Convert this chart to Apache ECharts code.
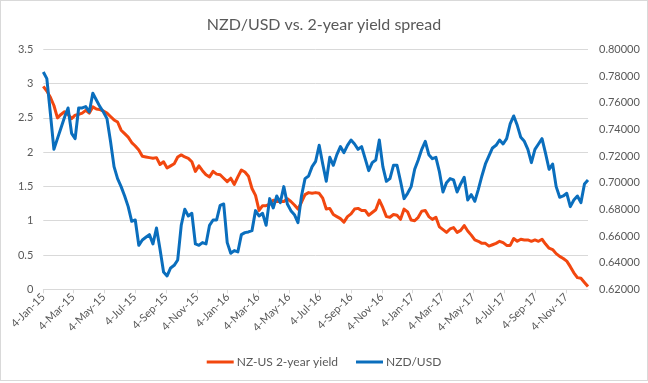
<!DOCTYPE html>
<html>
<head>
<meta charset="utf-8">
<script src="https://cdn.jsdelivr.net/npm/echarts@6/dist/echarts.min.js"></script>
<style>
html,body{margin:0;padding:0;background:#fff;}
#chart{position:absolute;left:0;top:0;width:648px;height:383px;}
#frame{position:absolute;left:0;top:0;width:646px;height:379px;border:1px solid #d9d9d9;pointer-events:none;}
</style>
</head>
<body>
<div id="chart"></div>
<div id="frame"></div>
<script>
// Weekly observations starting on this date (Sunday), one per week
const startDate = '2015-01-04';
const lastDate = '2017-12-17';

const tickLabels = ['4-Jan-15','4-Mar-15','4-May-15','4-Jul-15','4-Sep-15','4-Nov-15',
  '4-Jan-16','4-Mar-16','4-May-16','4-Jul-16','4-Sep-16','4-Nov-16',
  '4-Jan-17','4-Mar-17','4-May-17','4-Jul-17','4-Sep-17','4-Nov-17'];

const leftTicks = ['0','0.5','1','1.5','2','2.5','3','3.5'];

const seriesNames = ['NZ-US 2-year yield', 'NZD/USD'];

const yieldSpread = [
  2.96,2.89,2.80,2.68,2.50,2.55,2.59,2.55,2.49,2.54,
  2.55,2.57,2.61,2.57,2.66,2.63,2.62,2.60,2.57,2.52,
  2.47,2.44,2.32,2.27,2.22,2.14,2.09,2.03,1.94,1.93,
  1.92,1.91,1.92,1.82,1.86,1.77,1.80,1.83,1.93,1.96,
  1.93,1.91,1.86,1.72,1.80,1.73,1.67,1.64,1.72,1.68,
  1.67,1.62,1.57,1.62,1.53,1.64,1.74,1.71,1.65,1.47,
  1.37,1.15,1.22,1.22,1.24,1.30,1.28,1.28,1.28,1.32,
  1.28,1.23,1.17,1.27,1.38,1.41,1.40,1.41,1.40,1.33,
  1.17,1.18,1.09,1.06,1.03,0.98,1.06,1.10,1.17,1.18,
  1.15,1.15,1.08,1.12,1.16,1.30,1.19,1.06,1.05,1.09,
  1.08,1.02,1.17,1.13,1.01,1.00,1.05,1.14,1.15,1.06,
  1.02,1.05,0.91,0.87,0.83,0.88,0.90,0.83,0.86,0.93,
  0.85,0.79,0.72,0.70,0.67,0.67,0.63,0.65,0.67,0.70,
  0.68,0.64,0.64,0.74,0.70,0.73,0.72,0.72,0.70,0.72,
  0.70,0.73,0.66,0.60,0.58,0.52,0.48,0.45,0.41,0.33,
  0.24,0.17,0.16,0.10,0.04
];

const nzdUsd = [
  0.783,0.778,0.752,0.725,0.733,0.741,0.749,0.756,0.737,0.733,
  0.756,0.756,0.757,0.753,0.767,0.762,0.757,0.753,0.748,0.731,
  0.712,0.703,0.697,0.690,0.682,0.671,0.672,0.653,0.657,0.659,
  0.661,0.654,0.666,0.650,0.633,0.630,0.636,0.638,0.642,0.668,
  0.680,0.675,0.677,0.654,0.653,0.655,0.654,0.668,0.672,0.672,
  0.683,0.684,0.655,0.647,0.649,0.648,0.661,0.6625,0.663,0.664,
  0.679,0.675,0.677,0.668,0.688,0.681,0.690,0.685,0.697,0.684,
  0.679,0.676,0.670,0.690,0.703,0.705,0.712,0.716,0.728,0.714,
  0.701,0.719,0.713,0.721,0.727,0.7225,0.728,0.732,0.729,0.725,
  0.727,0.718,0.709,0.715,0.717,0.732,0.712,0.701,0.703,0.713,
  0.713,0.701,0.688,0.692,0.697,0.710,0.717,0.725,0.731,0.721,
  0.718,0.719,0.708,0.693,0.700,0.703,0.702,0.693,0.699,0.704,
  0.687,0.691,0.686,0.695,0.705,0.714,0.720,0.726,0.728,0.732,
  0.729,0.733,0.744,0.750,0.743,0.734,0.731,0.725,0.715,0.725,
  0.729,0.733,0.722,0.710,0.714,0.697,0.689,0.690,0.692,0.682,
  0.687,0.690,0.685,0.699,0.702
];

const MONTHS = {Jan:0,Feb:1,Mar:2,Apr:3,May:4,Jun:5,Jul:6,Aug:7,Sep:8,Oct:9,Nov:10,Dec:11};
const DAY = 86400000;
const t0 = Date.parse(startDate + 'T00:00:00Z');
function dayOffset(label) {
  const p = label.split('-');
  return Math.round((Date.UTC(2000 + (+p[2]), MONTHS[p[1]], +p[0]) - t0) / DAY);
}
const tickDays = tickLabels.map(dayOffset);
const maxDay = Math.round((Date.parse(lastDate + 'T00:00:00Z') - t0) / DAY);

const redData = yieldSpread.map((v, i) => [i * 7, v]);
const blueData = nzdUsd.map((v, i) => [i * 7, v]);

const FONT = 'Lato, "Open Sans", sans-serif';
const chart = echarts.init(document.getElementById('chart'), null, {renderer: 'canvas'});
chart.setOption({
  animation: false,
  backgroundColor: '#ffffff',
  title: {
    text: 'NZD/USD vs. 2-year yield spread',
    left: 'center',
    top: 12,
    textStyle: {fontFamily: FONT, fontSize: 16, fontWeight: 'normal', color: '#595959'}
  },
  legend: {
    bottom: 10,
    left: 'center',
    itemWidth: 27,
    itemHeight: 3,
    itemGap: 18,
    icon: 'rect',
    data: seriesNames,
    textStyle: {fontFamily: FONT, fontSize: 12, color: '#595959', padding: [0, 0, 0, -2]}
  },
  grid: {left: 43.3, right: 60, top: 49.3, bottom: 93.7, containLabel: false},
  xAxis: {
    type: 'value',
    min: 0,
    max: maxDay,
    axisLine: {show: true, lineStyle: {color: '#d9d9d9', width: 1}},
    axisTick: {show: true, length: 4, lineStyle: {color: '#d9d9d9'}, customValues: tickDays},
    axisLabel: {
      customValues: tickDays,
      rotate: 45,
      margin: 6,
      fontFamily: FONT,
      fontSize: 11,
      color: '#595959',
      formatter: function (v) {
        const k = tickDays.indexOf(Math.round(v));
        return k >= 0 ? tickLabels[k] : '';
      }
    },
    splitLine: {show: false}
  },
  yAxis: [
    {
      type: 'value',
      min: 0,
      max: 3.5,
      interval: 0.5,
      axisLine: {show: false},
      axisTick: {show: false},
      axisLabel: {
        margin: 10,
        fontFamily: FONT,
        fontSize: 11,
        color: '#595959',
        formatter: function (v) { return leftTicks[Math.round(v / 0.5)]; }
      },
      splitLine: {show: true, lineStyle: {color: '#d9d9d9', width: 1}}
    },
    {
      type: 'value',
      min: 0.62,
      max: 0.80,
      interval: 0.02,
      axisLine: {show: false},
      axisTick: {show: false},
      axisLabel: {
        margin: 11,
        fontFamily: FONT,
        fontSize: 11,
        color: '#595959',
        formatter: function (v) { return v.toFixed(5); }
      },
      splitLine: {show: false}
    }
  ],
  series: [
    {
      name: seriesNames[0],
      type: 'line',
      yAxisIndex: 0,
      data: redData,
      showSymbol: false,
      symbol: 'none',
      lineStyle: {color: '#F2470F', width: 3, join: 'round'},
      itemStyle: {color: '#F2470F'}
    },
    {
      name: seriesNames[1],
      type: 'line',
      yAxisIndex: 1,
      data: blueData,
      showSymbol: false,
      symbol: 'none',
      lineStyle: {color: '#0A6EBD', width: 3, join: 'round'},
      itemStyle: {color: '#0A6EBD'}
    }
  ]
});
</script>
</body>
</html>
